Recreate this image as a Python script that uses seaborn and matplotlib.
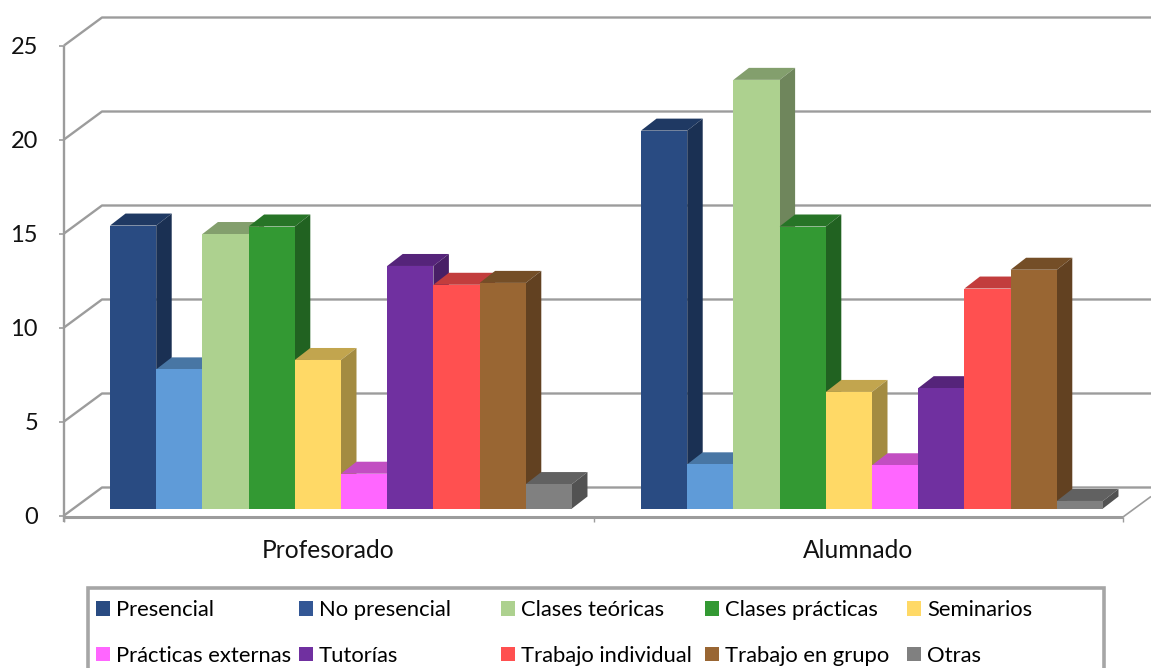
"""Profesorado / Alumnado: pseudo 3D clustered bars"""
import matplotlib

matplotlib.use("Agg")
from matplotlib import pyplot as plt
from matplotlib.colors import to_rgb
from matplotlib.patches import Patch, Polygon, Rectangle
from pandas import DataFrame
from seaborn import barplot

W, H = 1151, 668

groups = ["Profesorado", "Alumnado"]
series = [
    "Presencial", "No presencial", "Clases teóricas", "Clases prácticas", "Seminarios",
    "Prácticas externas", "Tutorías", "Trabajo individual", "Trabajo en grupo", "Otras",
]
profesorado = [15.05, 7.4, 14.6, 15.0, 7.9, 1.85, 12.9, 11.9, 12.0, 1.3]
alumnado = [20.1, 2.35, 22.8, 15.0, 6.2, 2.3, 6.4, 11.7, 12.7, 0.4]
bar_colors = [
    "#294B82", "#5F9BD8", "#ADD18F", "#339933", "#FFD966",
    "#FF66FF", "#7030A0", "#FF5050", "#996633", "#808080",
]
legend_colors = [
    "#294B82", "#335795", "#ADD18F", "#339933", "#FFD966",
    "#FF66FF", "#7030A0", "#FF5050", "#996633", "#808080",
]
y_ticks = [0, 5, 10, 15, 20, 25]

GRID = "#9C9C9C"
PX_PER_UNIT = 18.8
BAR_BASE = 508.5
DEPTH = (15.5, 12)  # bar depth in pixels


def x_px(px):
    return (px - 341) / 531


def y_px(py):
    return (BAR_BASE - py) / PX_PER_UNIT


def front_y(v):
    return 515.5 - v * PX_PER_UNIT


def shade(color, factor):
    return tuple(c * factor for c in to_rgb(color))


def line(ax, xs, ys, lw=1.7, z=1):
    ax.plot([x_px(x) for x in xs], [y_px(y) for y in ys], color=GRID, lw=lw, zorder=z,
            solid_capstyle="butt")


plt.rcParams["font.family"] = ["Lato", "DejaVu Sans"]
fig = plt.figure(figsize=(W / 100, H / 100), dpi=100)
ax = fig.add_axes([0, 0, 1, 1])

df = DataFrame({
    "Grupo": [groups[0]] * len(series) + [groups[1]] * len(series),
    "Serie": series * 2,
    "Valor": profesorado + alumnado,
})
barplot(data=df, x="Grupo", y="Valor", hue="Serie", hue_order=series, order=groups,
        palette=bar_colors, saturation=1, width=0.87, gap=0, linewidth=0, legend=False, ax=ax)

ax.set_xlim(x_px(0), x_px(W))
ax.set_ylim(y_px(H), y_px(0))
ax.axis("off")

# extruded faces, left to right so each bar covers its neighbour's side
dx = DEPTH[0] / 531
dy = DEPTH[1] / PX_PER_UNIT
bars = sorted(
    [p for p in ax.patches if p.get_height() > 0], key=lambda p: p.get_x()
)
for i, bar in enumerate(bars):
    x0, w, h = bar.get_x(), bar.get_width(), bar.get_height()
    color = bar.get_facecolor()
    z = 3 + i
    bar.set_zorder(z + 0.5)
    ax.add_patch(Polygon([(x0, h), (x0 + w, h), (x0 + w + dx, h + dy), (x0 + dx, h + dy)],
                         fc=shade(color, 0.76), ec="none", zorder=z))
    ax.add_patch(Polygon([(x0 + w, 0), (x0 + w + dx, dy), (x0 + w + dx, h + dy), (x0 + w, h)],
                         fc=shade(color, 0.64), ec="none", zorder=z))

# walls and floor
for v in y_ticks:
    fy = front_y(v)
    line(ax, [64, 102, W], [fy, fy - 28, fy - 28])
    line(ax, [59, 64], [fy, fy], lw=1.2)
    ax.text(x_px(38), y_px(fy + 1.5), str(v), ha="right", va="center", fontsize=17, color="#111111")
line(ax, [64, 64], [front_y(25), 522], lw=1.7)
line(ax, [64, 1123], [front_y(0) + 1.5] * 2, lw=2.2, z=2)
line(ax, [1123, W], [front_y(0) + 1.5, front_y(0) - 19], lw=1.2)
for tick in (64, 594, 1123):
    line(ax, [tick, tick], [517, 522], lw=1.0)

for name, px in zip(groups, (328.5, 858)):
    ax.text(x_px(px), y_px(551), name, ha="center", va="center", fontsize=17.7, color="#111111")

# legend box runs off the bottom of the picture
ax.add_patch(Rectangle((x_px(87.5), y_px(700)), x_px(1103.5) - x_px(87.5), y_px(587.5) - y_px(700),
                       fc="white", ec="#A6A6A6", lw=2.6, zorder=20))

handles = [Patch(fc=c, ec="none", label=s) for s, c in zip(series, legend_colors)]
for col, px in enumerate((96, 299, 501, 705, 907)):
    leg = ax.legend(
        handles=handles[col::5], loc="upper left", bbox_to_anchor=(px / W, 1 - 600 / H),
        frameon=False, fontsize=15.8, ncols=1, borderpad=0, borderaxespad=0,
        handlelength=0.64, handleheight=0.64, handletextpad=0.27, labelspacing=1.17,
    )
    leg.set_zorder(21)
    ax.add_artist(leg)
ax.legend_ = None  # already added as an artist, would draw twice

plt.savefig("out.png", dpi=100)
